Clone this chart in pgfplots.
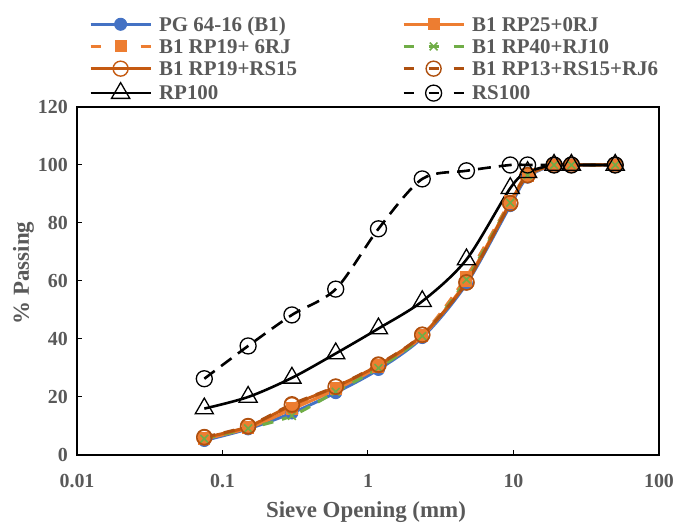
\documentclass[border=0pt]{standalone}
\usepackage{fontspec}
\setmainfont{Liberation Serif}
\usepackage{pgfplots}
\usepackage{pgfplotstable}
\pgfplotsset{compat=1.18}

\definecolor{xlblue}{HTML}{4472C4}
\definecolor{xlorange}{HTML}{ED7D31}
\definecolor{xlgreen}{HTML}{70AD47}
\definecolor{xlbrown}{HTML}{C55A11}
\definecolor{xlbrowndk}{HTML}{AE500F}
\definecolor{txtgray}{HTML}{595959}

% Gradation: percent passing per sieve opening (mm)
\pgfplotstableread{
size   pg     rpzr   rpsix  rpforty rprs   rpmix  rphun  rshun
0.075  5.0    5.5    5.7    5.6     6.0    6.2    16.0   26.3
0.15   9.0    9.3    9.5    9.2     9.8    10.0   20.0   37.6
0.3    14.5   15.8   16.3   13.5    17.2   17.5   26.6   48.3
0.6    21.5   22.6   23.0   21.8    23.5   23.6   35.0   57.2
1.18   29.5   30.4   31.0   30.0    31.0   31.2   43.6   78.0
2.36   40.5   41.0   41.5   41.0    41.4   41.5   53.0   95.2
4.75   59.0   60.0   61.5   60.5    59.5   59.5   67.4   98.0
9.5    86.0   87.0   87.5   87.0    86.8   86.8   92.0   100
12.5   95.8   96.2   96.8   96.5    96.5   96.5   97.5   100
19     100    100    100    100     100    100    100    100
25     100    100    100    100     100    100    100    100
50     100    100    100    100     100    100    100    100
}\gradtable

\begin{document}
\begin{tikzpicture}
\path[use as bounding box] (0,0) rectangle (675bp,523bp);
\begin{axis}[
  at={(77bp,68bp)}, anchor=south west,
  scale only axis, width=582bp, height=348bp,
  xmode=log, xmin=0.01, xmax=100, ymin=0, ymax=120,
  xtick={0.01,0.1,1,10,100},
  xticklabels={0.01,0.1,1,10,100},
  xminorticks=false,
  ytick={0,20,...,120},
  /pgf/number format/assume math mode=true,
  tick align=inside, tick pos=left,
  major tick length=5bp,
  tick style={black, line width=1bp},
  axis line style={black, line width=1.2bp},
  every tick label/.append style={font=\fontsize{20}{24}\selectfont\bfseries, text=txtgray},
  xticklabel style={inner sep=0pt, text height=14bp, text depth=0pt, anchor=north, yshift=-18bp},
  yticklabel style={inner sep=0pt, anchor=east, xshift=-9bp},
  xlabel={Sieve Opening (mm)},
  ylabel={\% Passing},
  label style={font=\fontsize{23}{27}\selectfont\bfseries, text=txtgray},
  xlabel style={at={(axis description cs:0.4966,-0.165)}, anchor=center},
  ylabel style={at={(axis description cs:-0.092,0.523)}, anchor=center},
  legend columns=2,
  legend image code/.code={\draw[mark repeat=2,mark phase=2,#1] plot coordinates {(0bp,0bp) (30bp,0bp) (60bp,0bp)};},
  legend style={at={(axis description cs:0.0205,1.262)}, anchor=north west,
    draw=none, fill=none, inner sep=0pt, row sep=5.7bp,
    font=\fontsize{21}{25}\selectfont\bfseries, text=txtgray,
    nodes={inner sep=0pt},
    /tikz/every odd column/.append style={column sep=7bp},
    /tikz/every even column/.append style={text height=15bp, text depth=5bp}},
  legend cell align=left,
]
\addplot[xlblue, line width=3bp, smooth, mark=*, mark size=6bp,
  mark options={fill=xlblue, line width=1bp}]
  table[x=size, y=pg] {\gradtable};
\addlegendentry{\makebox[243bp][l]{PG 64-16 (B1)}}
\addplot[xlorange, line width=3bp, smooth, mark=square*, mark size=5.5bp,
  mark options={fill=xlorange, line width=1bp}]
  table[x=size, y=rpzr] {\gradtable};
\addlegendentry{B1 RP25+0RJ}
\addplot[xlorange, line width=3bp, smooth, dash pattern=on 11bp off 9bp,
  mark=square*, mark size=5.5bp, mark options={solid, fill=xlorange, line width=1bp},
  legend image post style={dash pattern=on 10bp off 15bp}]
  table[x=size, y=rpsix] {\gradtable};
\addlegendentry{\makebox[243bp][l]{B1 RP19+ 6RJ}}
\addplot[xlgreen, line width=3bp, smooth, dash pattern=on 11bp off 9bp,
  mark=x, mark size=5.5bp, mark options={solid, line width=1.6bp},
  legend image post style={dash pattern=on 10bp off 15bp}]
  table[x=size, y=rpforty] {\gradtable};
\addlegendentry{B1 RP40+RJ10}
\addplot[xlbrown, line width=3bp, smooth, mark=o, mark size=7.5bp,
  mark options={line width=1.4bp}]
  table[x=size, y=rprs] {\gradtable};
\addlegendentry{\makebox[243bp][l]{B1 RP19+RS15}}
\addplot[xlbrowndk, line width=3bp, smooth, dash pattern=on 11bp off 9bp,
  mark=o, mark size=7.5bp, mark options={solid, line width=1.4bp},
  legend image post style={dash pattern=on 10bp off 15bp}]
  table[x=size, y=rpmix] {\gradtable};
\addlegendentry{B1 RP13+RS15+RJ6}
\addplot[black, line width=2.6bp, smooth, mark=triangle, mark size=10.5bp,
  mark options={line width=1.3bp}]
  table[x=size, y=rphun] {\gradtable};
\addlegendentry{\makebox[243bp][l]{RP100}}
\addplot[black, line width=2.6bp, smooth, dash pattern=on 13bp off 8bp,
  mark=o, mark size=8bp, mark options={solid, line width=1.3bp},
  legend image post style={dash pattern=on 10bp off 15bp}]
  table[x=size, y=rshun] {\gradtable};
\addlegendentry{RS100}
\end{axis}
\end{tikzpicture}
\end{document}
